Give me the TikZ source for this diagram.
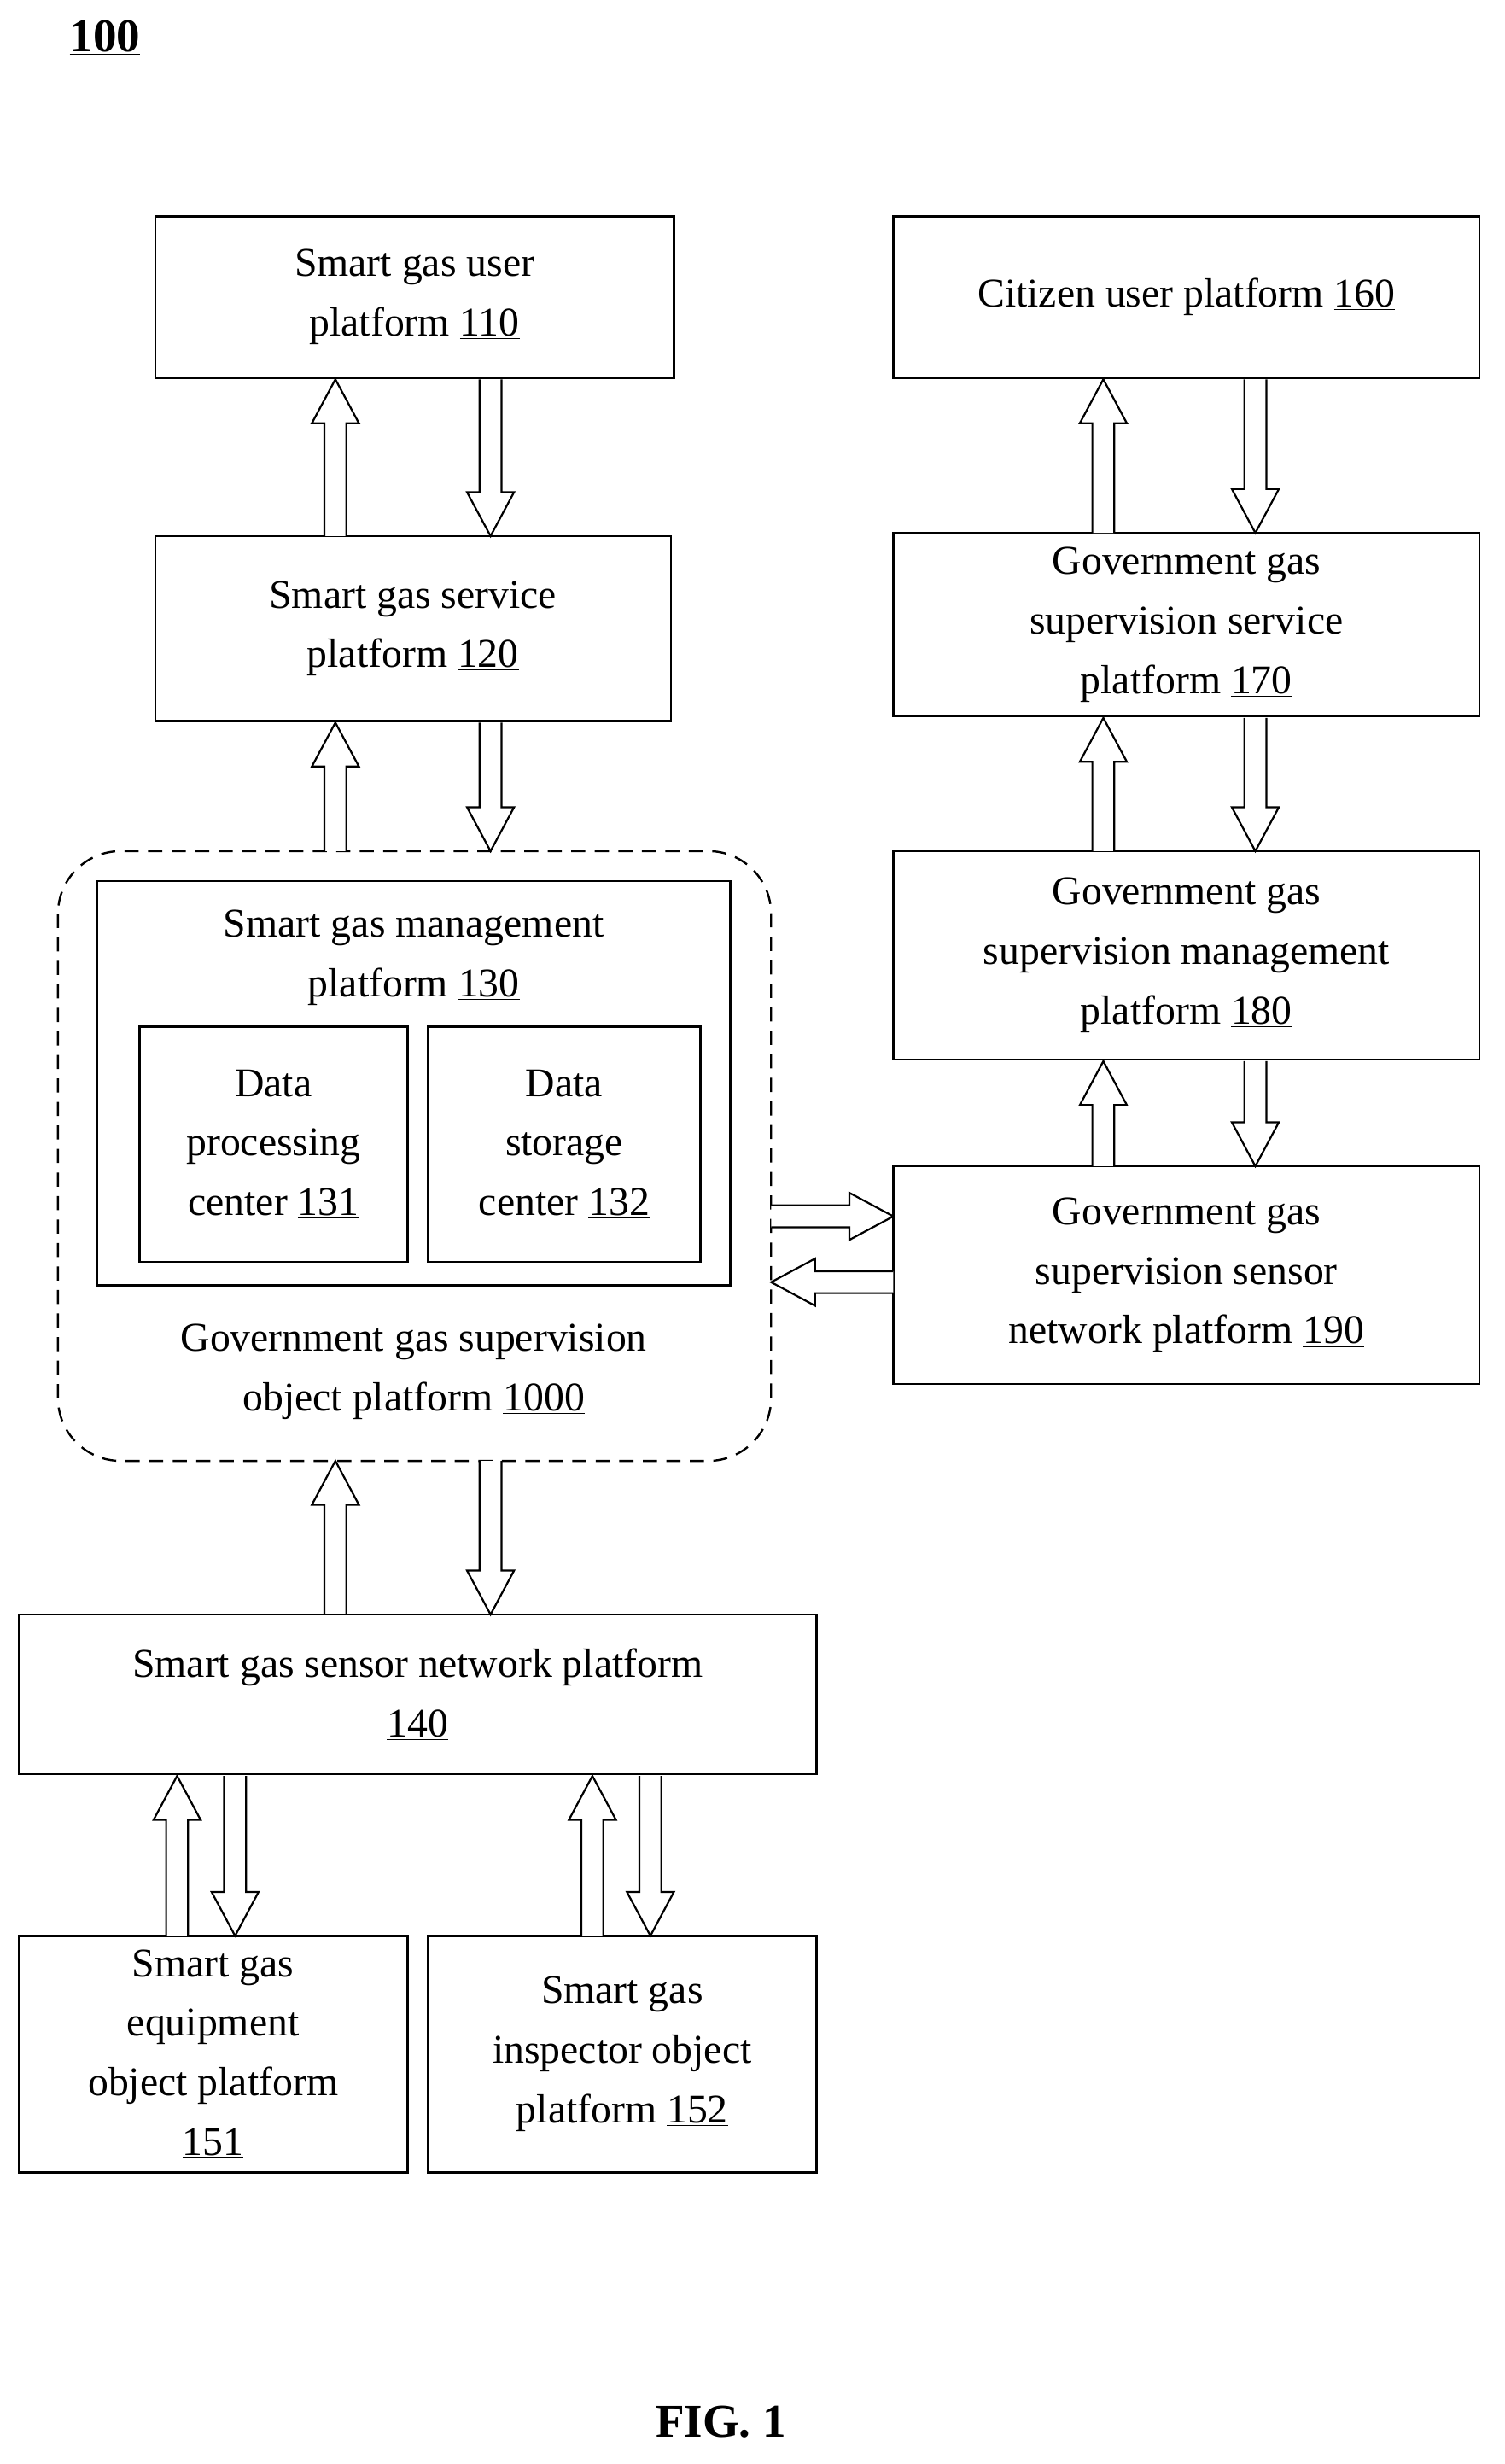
\documentclass[tikz,border=0pt]{standalone}
\usepackage{fontspec}
\setmainfont{Liberation Serif}
\begin{document}
\begin{tikzpicture}[x=1pt,y=-1pt,
  box/.style={draw,line width=1.3pt,inner sep=0pt,align=center,font=\fontsize{26}{38}\selectfont},
  lbl/.style={align=center,font=\fontsize{26}{38}\selectfont},
  harr/.style={draw,line width=1.2pt,fill=white}]
\useasboundingbox (0,0) rectangle (960,1572);
\newcommand\boxat[6]{\node[box,minimum width=#4-#3,minimum height=#6-#5] (#1) at ({(#3+#4)/2},{(#5+#6)/2}) {#2};}
% vertical arrow: x, from y, to y (head at to)
\newcommand\varr[3]{\path[harr] (#1-7,#2) -- (#1-7,{#3+(#2>#3?28:-28)}) -- (#1-15,{#3+(#2>#3?28:-28)}) -- (#1,#3) -- (#1+15,{#3+(#2>#3?28:-28)}) -- (#1+7,{#3+(#2>#3?28:-28)}) -- (#1+7,#2);}
\newcommand\harrw[3]{\path[harr] (#2,#1-7) -- ({#3+(#2>#3?28:-28)},#1-7) -- ({#3+(#2>#3?28:-28)},#1-15) -- (#3,#1) -- ({#3+(#2>#3?28:-28)},#1+15) -- ({#3+(#2>#3?28:-28)},#1+7) -- (#2,#1+7);}
\node[font=\fontsize{30}{36}\selectfont\bfseries] (t) at (67,24) {\underline{100}};
\node[font=\fontsize{30}{36}\selectfont\bfseries] (fig) at (460,1545) {FIG. 1};
\draw[line width=1.3pt,dash pattern=on 9pt off 6pt,rounded corners=40pt] (37,543) rectangle (492,932);
\node[lbl] (l1000) at (264,875) {Government gas supervision\\object platform \underline{1000}};
\boxat{n110}{Smart gas user\\platform \underline{110}}{99}{430}{138}{241}
\boxat{n120}{Smart gas service\\platform \underline{120}}{99}{428}{342}{460}
\draw[line width=1.3pt] (62,562) rectangle (466,820);
\node[lbl] (n130) at (264,611) {Smart gas management\\platform \underline{130}};
\boxat{n131}{Data\\processing\\center \underline{131}}{89}{260}{655}{805}
\boxat{n132}{Data\\storage\\center \underline{132}}{273}{447}{655}{805}
\boxat{n140}{Smart gas sensor network platform\\\underline{140}}{12}{521}{1030}{1132}
\boxat{n151}{Smart gas\\equipment\\object platform\\\underline{151}}{12}{260}{1235}{1386}
\boxat{n152}{Smart gas\\inspector object\\platform \underline{152}}{273}{521}{1235}{1386}
\boxat{n160}{Citizen user platform \underline{160}}{570}{944}{138}{241}
\boxat{n170}{Government gas\\supervision service\\platform \underline{170}}{570}{944}{340}{457}
\boxat{n180}{Government gas\\supervision management\\platform \underline{180}}{570}{944}{543}{676}
\boxat{n190}{Government gas\\supervision sensor\\network platform \underline{190}}{570}{944}{744}{883}
\varr{214}{342}{242}\varr{313}{242}{342}
\varr{214}{543}{461}\varr{313}{461}{543}
\varr{214}{1030}{932}\varr{313}{932}{1030}
\varr{113}{1235}{1133}\varr{150}{1133}{1235}
\varr{378}{1235}{1133}\varr{415}{1133}{1235}
\varr{704}{340}{242}\varr{801}{242}{340}
\varr{704}{543}{458}\varr{801}{458}{543}
\varr{704}{744}{677}\varr{801}{677}{744}
\harrw{776}{492}{570}\harrw{818}{570}{492}
\end{tikzpicture}
\end{document}
